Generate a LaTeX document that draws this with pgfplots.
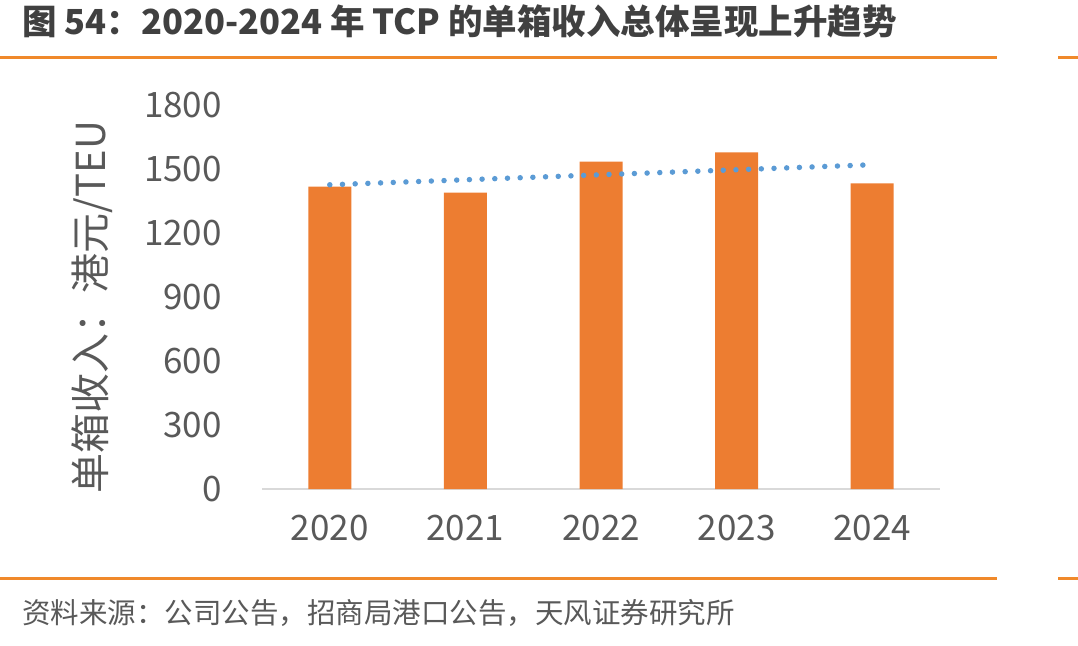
\documentclass[border=0pt]{standalone}
\usepackage{fontspec}
\setmainfont{Noto Sans CJK SC}
\usepackage{pgfplots}
\pgfplotsset{compat=1.18}
\definecolor{barorange}{HTML}{ED7D31}
\definecolor{trendblue}{HTML}{5B9BD5}
\definecolor{lineorange}{HTML}{F0892A}
\definecolor{txtgray}{HTML}{595959}
\definecolor{titlegray}{HTML}{404040}
\definecolor{axgray}{HTML}{D9D9D9}
\begin{document}
\begin{tikzpicture}[x=1pt,y=1pt]
\useasboundingbox (0,0) rectangle (1078,645);
\draw[lineorange, line width=3pt] (0,587) -- (997,587);
\draw[lineorange, line width=3pt] (1058,587) -- (1078,587);
\draw[lineorange, line width=3pt] (0,67) -- (997,67);
\draw[lineorange, line width=3pt] (1058,67) -- (1078,67);
\node[anchor=base west, inner sep=0pt, font=\fontsize{34.5}{34.5}\selectfont\bfseries, text=titlegray] at (22,610) {图 54：2020-2024 年 TCP 的单箱收入总体呈现上升趋势};
\node[anchor=base west, inner sep=0pt, font=\fontsize{28.5}{28.5}\selectfont, text=txtgray] at (22,22) {资料来源：公司公告，招商局港口公告，天风证券研究所};
\begin{axis}[
  at={(262pt,156pt)}, anchor=south west,
  scale only axis, width=678pt, height=384pt,
  xmin=-0.5, xmax=4.5, ymin=0, ymax=1800,
  axis x line=bottom, axis y line=left,
  x axis line style={draw=axgray, line width=1.5pt, -},
  y axis line style={draw=none},
  major tick length=0pt,
  xtick={0,1,2,3,4},
  xticklabels={2020,2021,2022,2023,2024},
  ytick={0,300,600,900,1200,1500,1800},
  /pgf/number format/assume math mode=true,
  /pgf/number format/1000 sep={},
  tick label style={font=\fontsize{35}{35}\selectfont, text=txtgray},
  yticklabel style={inner sep=0pt, xshift=-40pt},
  xticklabel style={inner sep=0pt, yshift=-26pt},
  ylabel={单箱收入：港元/TEU},
  ylabel style={font=\fontsize{40}{40}\selectfont, text=txtgray, at={(axis description cs:-0.251,0.474)}, anchor=center},
  clip=false,
]
\addplot[ybar, bar width=43pt, fill=barorange, draw=none, bar shift=0pt] coordinates {(0,1417) (1,1389) (2,1534) (3,1578) (4,1433)};
\addplot[trendblue, line width=5.5pt, line cap=round, dash pattern=on 0pt off 12.7pt] coordinates {(0,1426) (4,1520)};
\end{axis}
\end{tikzpicture}
\end{document}
